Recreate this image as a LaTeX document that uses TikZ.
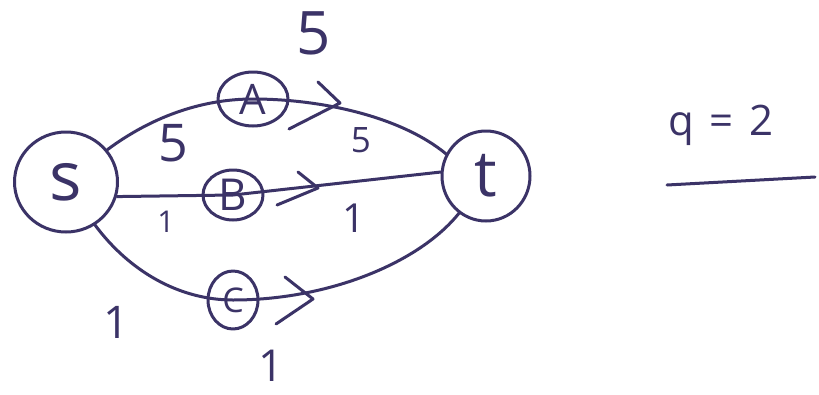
\documentclass[tikz,border=0pt]{standalone}
\usepackage{fontspec}
\setmainfont{Open Sans}
\usetikzlibrary{shapes.geometric}
\definecolor{ink}{HTML}{3B3367}
\begin{document}
\begin{tikzpicture}[x=1pt,y=-1pt,
  every node/.style={text=ink},
  pen/.style={draw=ink,line width=3pt,line cap=round,line join=round},
  vert/.style={pen,ellipse,inner sep=0pt},
  chev/.style={pen},
  wt/.style={inner sep=0pt}]
\useasboundingbox[fill=white] (0,0) rectangle (819,394);
% nodes
\node[vert,minimum width=103pt,minimum height=100pt,font=\fontsize{68}{68}\selectfont] (s) at (66,182) {s};
\node[vert,minimum width=88pt,minimum height=90pt,font=\fontsize{64}{64}\selectfont] (t) at (486,176) {t};
\node[vert,minimum width=70pt,minimum height=54pt,font=\fontsize{42}{42}\selectfont] (A) at (253,99) {A};
\node[vert,minimum width=60pt,minimum height=50pt,font=\fontsize{44}{44}\selectfont] (B) at (233,195) {B};
\node[vert,minimum width=50pt,minimum height=58pt,font=\fontsize{34}{34}\selectfont] (C) at (233,300) {C};
% edges
\draw[pen] (s.38) .. controls (150,118) and (200,99) .. (A.center)
  .. controls (320,99) and (400,116) .. (t.151);
\draw[pen] (s.-16) -- (B.center) -- (t.175);
\draw[pen] (s.-56) .. controls (130,272) and (180,300) .. (C.center)
  .. controls (330,300) and (420,262) .. (t.-126);
% chevrons
\coordinate (a1) at (318,82); \coordinate (a2) at (340,103); \coordinate (a3) at (289,129);
\draw[chev] (a1) -- (a2) -- (a3);
\coordinate (b1) at (298,172); \coordinate (b2) at (318,188); \coordinate (b3) at (277,205);
\draw[chev] (b1) -- (b2) -- (b3);
\coordinate (c1) at (285,277); \coordinate (c2) at (313,299); \coordinate (c3) at (276,324);
\draw[chev] (c1) -- (c2) -- (c3);
% weights
\node[wt,font=\fontsize{60}{60}\selectfont] (w1) at (314,33) {5};
\node[wt,font=\fontsize{52}{52}\selectfont] (w2) at (173,143) {5};
\node[wt,font=\fontsize{35}{35}\selectfont] (w3) at (361,140) {5};
\node[wt,font=\fontsize{30}{30}\selectfont] (w4) at (166,222) {1};
\node[wt,font=\fontsize{40}{40}\selectfont] (w5) at (354,218) {1};
\node[wt,font=\fontsize{45}{45}\selectfont] (w6) at (116,322) {1};
\node[wt,font=\fontsize{44}{44}\selectfont] (w7) at (271,366) {1};
% q = 2
\node[wt,font=\fontsize{42}{42}\selectfont,anchor=base west] (q) at (668,135) {q\hspace{16pt}=\hspace{16pt}2};
\coordinate (u1) at (667,185); \coordinate (u2) at (815,177);
\draw[pen] (u1) -- (u2);
\end{tikzpicture}
\end{document}
